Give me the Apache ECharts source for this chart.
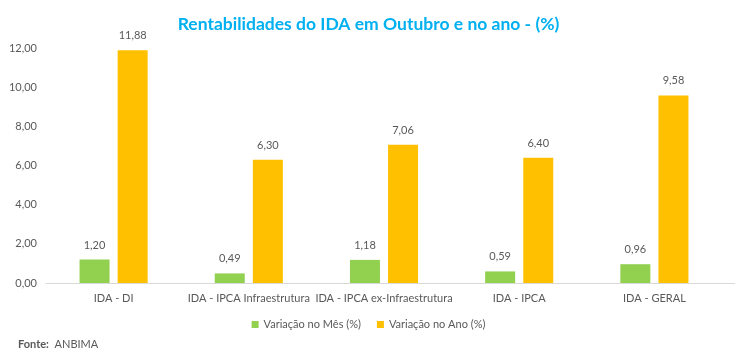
<!DOCTYPE html>
<html><head><meta charset="utf-8">
<script src="https://cdn.jsdelivr.net/npm/echarts@6/dist/echarts.min.js"></script>
<style>html,body{margin:0;padding:0;background:#fff}#c{width:737px;height:355px}</style>
</head><body><div id="c"></div>
<script>
const categories = ['IDA - DI', 'IDA - IPCA Infraestrutura', 'IDA - IPCA ex-Infraestrutura', 'IDA - IPCA', 'IDA - GERAL'];
const mesValues = [1.20, 0.49, 1.18, 0.59, 0.96];
const anoValues = [11.88, 6.30, 7.06, 6.40, 9.58];
const yTicks = [0, 2, 4, 6, 8, 10, 12];
const seriesNames = ['Variação no Mês (%)', 'Variação no Ano (%)'];

const fmt = v => Number(v).toFixed(2).replace('.', ',');
const font = 'Lato, "Open Sans", sans-serif';
const chart = echarts.init(document.getElementById('c'), null, {renderer: 'canvas'});
chart.setOption({
  animation: false,
  textStyle: {fontFamily: font},
  title: {
    text: 'Rentabilidades do IDA em Outubro e no ano - (%)',
    left: 'center', top: 10,
    textStyle: {color: '#00B0F0', fontSize: 17.5, fontWeight: 'bold', fontFamily: font}
  },
  legend: {
    data: seriesNames, bottom: 20, left: 'center',
    itemWidth: 7, itemHeight: 7, itemGap: 16,
    icon: 'rect',
    textStyle: {color: '#595959', fontSize: 11, fontFamily: font}
  },
  graphic: [{
    type: 'text', left: 18, top: 339,
    style: {
      text: '{b|Fonte:}  ANBIMA',
      rich: {b: {fontWeight: 'bold', fontSize: 11, fill: '#595959', fontFamily: font}},
      fontSize: 11, fill: '#595959', fontFamily: font
    }
  }, {
    type: 'line', shape: {x1: 46, y1: 283.5, x2: 735, y2: 283.5},
    style: {stroke: '#D9D9D9', lineWidth: 1}, z: 0
  }],
  grid: {left: 46, right: 15, top: 48, bottom: 72},
  xAxis: {
    type: 'category', data: categories,
    axisLine: {lineStyle: {color: '#D9D9D9'}},
    axisTick: {show: false},
    axisLabel: {color: '#595959', fontSize: 11, margin: 10, interval: 0, fontFamily: font}
  },
  yAxis: {
    type: 'value', min: 0, max: 12, interval: 2,
    splitLine: {show: false},
    axisLine: {show: false}, axisTick: {show: false},
    axisLabel: {color: '#595959', fontSize: 11, margin: 9, formatter: v => yTicks.includes(v) ? fmt(v) : '', fontFamily: font}
  },
  series: [
    {name: seriesNames[0], type: 'bar', data: mesValues, barWidth: 30, barGap: '27%',
     itemStyle: {color: '#92D050'},
     label: {show: true, position: 'top', distance: 9, color: '#595959', fontSize: 11, formatter: p => fmt(p.value), fontFamily: font}},
    {name: seriesNames[1], type: 'bar', data: anoValues, barWidth: 30,
     itemStyle: {color: '#FFC000'},
     label: {show: true, position: 'top', distance: 9, color: '#595959', fontSize: 11, formatter: p => fmt(p.value), fontFamily: font}}
  ]
});
</script></body></html>
